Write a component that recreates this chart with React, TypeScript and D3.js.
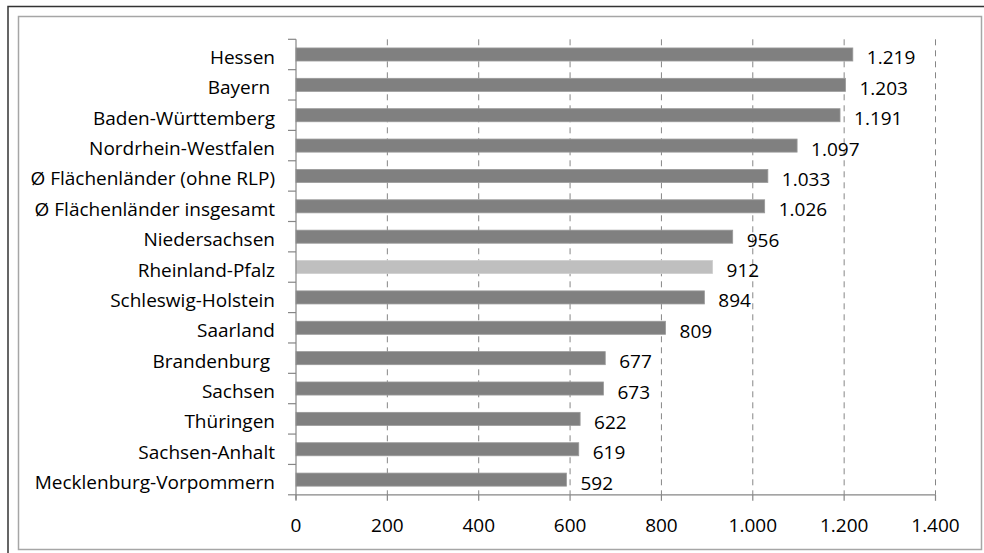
import React from "react";
import * as d3 from "d3";

const categories = [
  "Hessen",
  "Bayern ",
  "Baden-Württemberg",
  "Nordrhein-Westfalen",
  "Ø Flächenländer (ohne RLP)",
  "Ø Flächenländer insgesamt",
  "Niedersachsen",
  "Rheinland-Pfalz",
  "Schleswig-Holstein",
  "Saarland",
  "Brandenburg ",
  "Sachsen",
  "Thüringen",
  "Sachsen-Anhalt",
  "Mecklenburg-Vorpommern",
];
const values = [1219, 1203, 1191, 1097, 1033, 1026, 956, 912, 894, 809, 677, 673, 622, 619, 592];
const highlighted = ["Rheinland-Pfalz"];
const xTicks = [0, 200, 400, 600, 800, 1000, 1200, 1400];

const locale = d3.formatLocale({ decimal: ",", thousands: ".", grouping: [3], currency: ["", "€"] });
const fmt = locale.format(",d");

const FONT = "'Open Sans', sans-serif";

export default function App() {
  const W = 984;
  const H = 553;
  const x = d3.scaleLinear().domain([0, 1400]).range([296, 935.5]);
  const y = d3
    .scaleBand<string>()
    .domain(categories)
    .range([39.3, 494.8])
    .paddingInner(0.57)
    .paddingOuter(0.285);
  const step = y.step();
  const y0 = 39.3;
  const y1 = 494.8;
  const gridColor = "#868686";
  const fs = 19;

  return (
    <svg
      width={W}
      height={H}
      style={{ position: "absolute", left: 0, top: 0, display: "block" }}
      fontFamily={FONT}
    >
      <rect x={0} y={0} width={W} height={H} fill="#fff" />
      <rect x={8} y={6.5} width={985} height={570} fill="none" stroke="#333" strokeWidth={1.5} />
      <rect x={18.5} y={16.5} width={963} height={533} fill="none" stroke="#a6a6a6" strokeWidth={1.5} />

      {/* gridlines */}
      {xTicks.slice(1).map((t) => (
        <line
          key={"g" + t}
          x1={x(t)}
          x2={x(t)}
          y1={y0}
          y2={y1}
          stroke={gridColor}
          strokeWidth={1}
          strokeDasharray="6 5"
        />
      ))}

      {/* bars */}
      {categories.map((c, i) => (
        <rect
          key={"b" + i}
          x={x(0)}
          y={y(c)!}
          width={x(values[i]) - x(0)}
          height={y.bandwidth()}
          fill={highlighted.includes(c.trim()) ? "#bfbfbf" : "#808080"}
          stroke={highlighted.includes(c.trim()) ? "#cfcfcf" : "#999"}
          strokeWidth={0.8}
        />
      ))}

      {/* axes */}
      <line x1={x(0)} x2={x(0)} y1={y0} y2={y1 + 5} stroke={gridColor} strokeWidth={1.2} />
      <line x1={x(0)} x2={x(1400)} y1={y1} y2={y1} stroke={gridColor} strokeWidth={1.2} />
      {d3.range(categories.length + 1).map((i) => (
        <line
          key={"yt" + i}
          x1={288}
          x2={x(0)}
          y1={y0 + i * step}
          y2={y0 + i * step}
          stroke={gridColor}
          strokeWidth={1.2}
        />
      ))}
      {xTicks.map((t) => (
        <line key={"xt" + t} x1={x(t)} x2={x(t)} y1={y1} y2={y1 + 6} stroke={gridColor} strokeWidth={1.2} />
      ))}

      {/* category labels */}
      {categories.map((c) => (
        <text
          key={"l" + c}
          x={275}
          y={y(c)! + y.bandwidth() / 2 + 9.5}
          textAnchor="end"
          fontSize={fs}
          fill="#000"
          style={{ whiteSpace: "pre" }}
        >
          {c}
        </text>
      ))}

      {/* value labels */}
      {categories.map((c, i) => (
        <text
          key={"v" + c}
          x={x(values[i]) + 14}
          y={y(c)! + y.bandwidth() / 2 + 10}
          fontSize={fs}
          fill="#000"
        >
          {fmt(values[i])}
        </text>
      ))}

      {/* x tick labels */}
      {xTicks.map((t) => (
        <text key={"xl" + t} x={x(t)} y={532} textAnchor="middle" fontSize={fs} fill="#000">
          {fmt(t)}
        </text>
      ))}
    </svg>
  );
}
